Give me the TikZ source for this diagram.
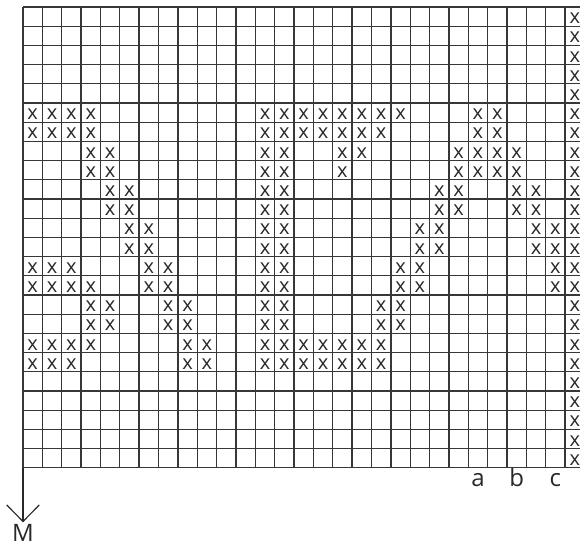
\documentclass[tikz,border=0pt]{standalone}
\usepackage{fontspec}
\setmainfont{Open Sans}
\usetikzlibrary{arrows.meta,positioning}
\definecolor{chartInk}{RGB}{40,40,40}
\definecolor{chartRule}{RGB}{55,55,55}
\tikzset{
  cross/.style={font=\fontsize{15}{15}\selectfont, text=chartInk,
    inner sep=0pt, anchor=center},
  colmark/.style={font=\fontsize{18}{18}\selectfont, text=chartInk,
    inner sep=0pt, anchor=base}
}

\begin{document}
\begin{tikzpicture}[
  x=14.52pt, y=14.4pt,
  gridline/.style={draw=chartRule, line width=1pt},
  pointer/.style={-{Straight Barb[length=12.5pt, width=24.5pt, line width=.85pt]},
    draw=chartInk, line width=.85pt, shorten >=1.5pt}
]
\path[use as bounding box] (-1.188,.365) rectangle (28.77,-28.385);
\clip (-1.188,.365) rectangle (28.77,-28.385);

% chart grid, 29 columns by 24 rows
\draw[gridline] (0,0) grid[xstep=14.52pt, ystep=14.4pt] (29,-24);

% stitches, row by row from the top
\foreach \r/\cs in {
  1/{29}, 2/{29}, 3/{29}, 4/{29}, 5/{29},
  6/{1,2,3,4,13,14,15,16,17,18,19,20,24,25,29},
  7/{1,2,3,4,13,14,15,16,17,18,19,24,25,29},
  8/{4,5,13,14,17,18,23,24,25,26,29},
  9/{4,5,13,14,17,23,24,25,26,29},
  10/{5,6,13,14,22,23,26,27,29},
  11/{5,6,13,14,22,23,26,27,29},
  12/{6,7,13,14,21,22,27,28,29},
  13/{6,7,13,14,21,22,27,28,29},
  14/{1,2,3,7,8,13,14,20,21,28,29},
  15/{1,2,3,4,7,8,13,14,20,21,28,29},
  16/{4,5,8,9,13,14,19,20,29},
  17/{4,5,8,9,13,14,19,20,29},
  18/{1,2,3,4,9,10,13,14,15,16,17,18,19,29},
  19/{1,2,3,9,10,13,14,15,16,17,18,19,29},
  20/{29}, 21/{29}, 22/{29}, 23/{29}, 24/{29}}
  \foreach \c in \cs
    \node[cross, yshift=-1.3pt] (x-\r-\c) at (\c-.5,.5-\r) {x};

% column marks
\node[colmark] (cola) at (23.5,-24.97) {a};
\node[colmark] (colb) at (25.5,-24.97) {b};
\node[colmark] (colc) at (27.5,-24.97) {c};

% direction of work
\coordinate (corner) at (0,-24);
\node[colmark] (dirM) at (0,-27.85) {M};
\draw[pointer] (corner) -- (dirM.north);
\end{tikzpicture}
\end{document}
